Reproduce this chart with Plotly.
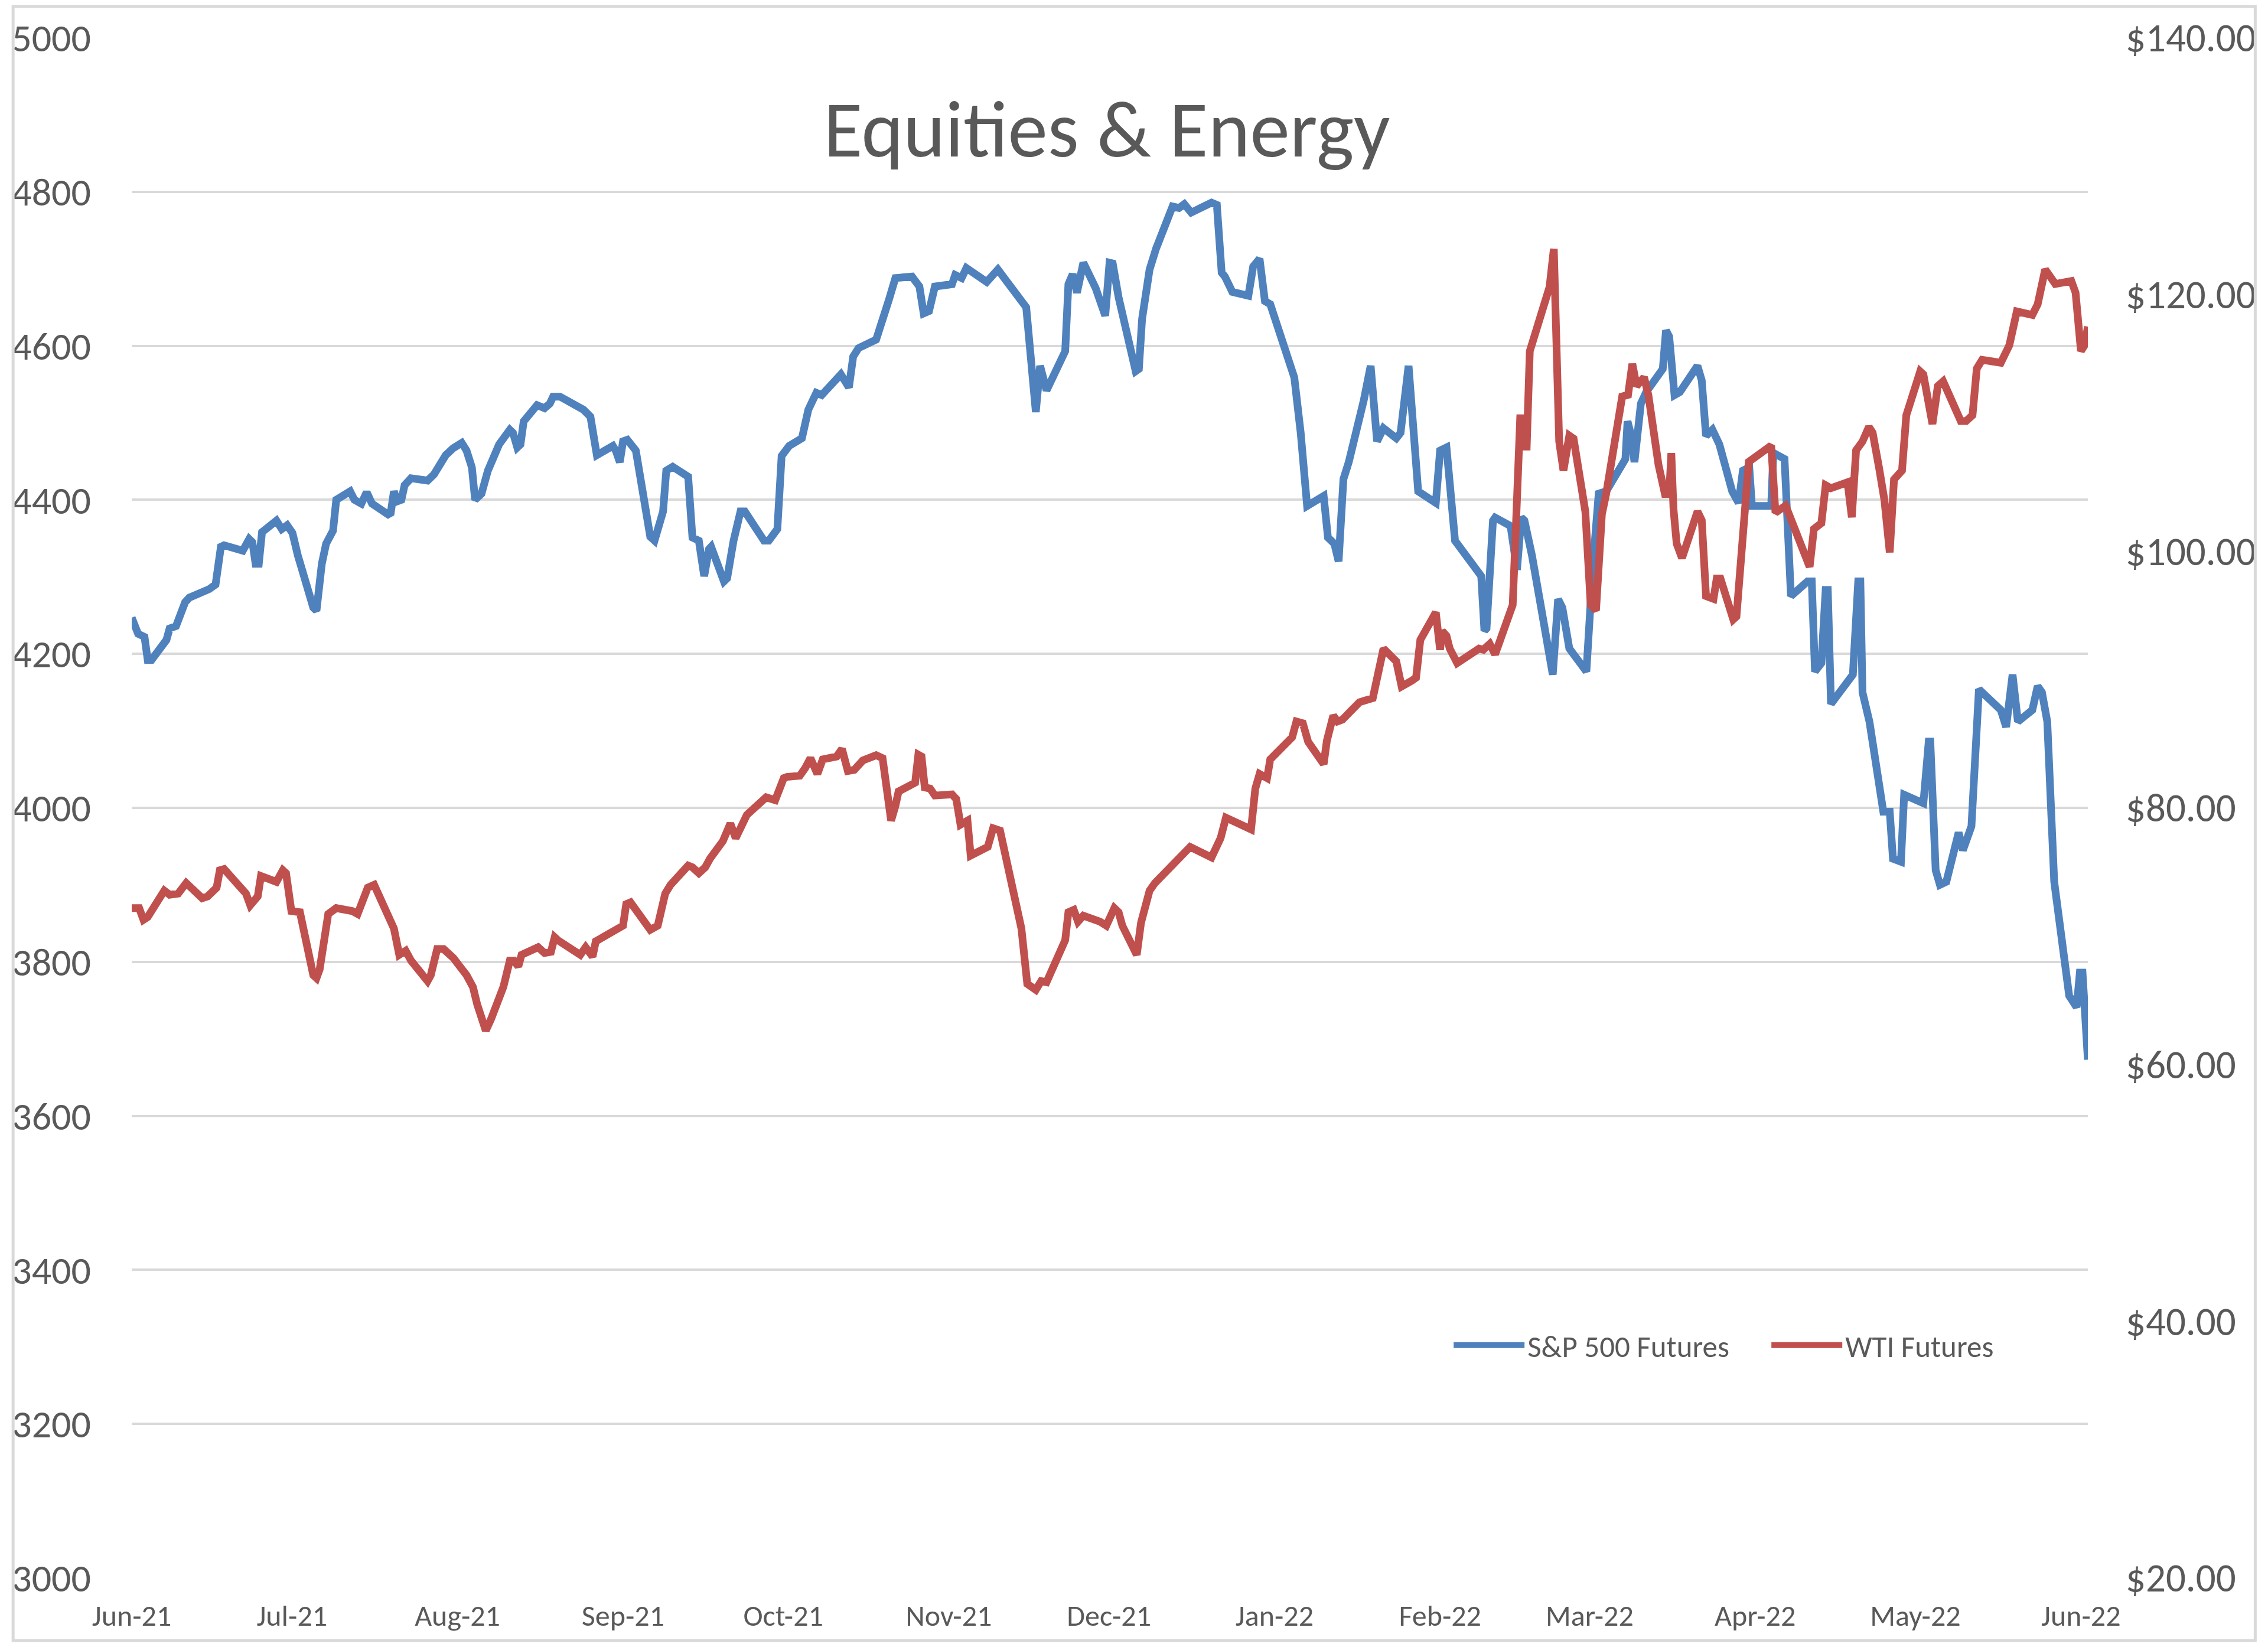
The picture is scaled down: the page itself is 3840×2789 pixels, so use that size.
import pandas as pd
import plotly.graph_objects as go

# days after 2021-06-16
start = pd.Timestamp("2021-06-16")

sp_days = [0, 1.2, 2.4, 3.0, 3.7, 5.3, 6.5, 7.1, 8.3, 10.0, 10.8, 14.5, 15.7, 16.7, 17.3,
           20.8, 22.0, 22.6, 23.2, 23.8, 24.4, 27.1, 28.1, 29.1, 30.1, 31.1, 34.0, 34.6,
           35.0, 35.6, 36.4, 37.7, 38.3, 40.9, 41.7, 43.0, 44.0, 45.0, 48.0, 48.5, 49.1,
           49.7, 50.5, 51.1, 52.3, 55.4, 56.6, 58.8, 60.2, 61.8, 62.7, 63.7, 64.3, 65.5,
           66.7, 68.8, 70.8, 71.4, 72.2, 72.8, 73.4, 75.9, 77.3, 78.3, 78.9, 80.2, 84.6,
           85.9, 87.1, 90.1, 90.7, 91.4, 92.0, 92.8, 94.4, 97.1, 97.9, 98.7, 99.5, 100.1,
           101.3, 104.2, 105.0, 106.2, 107.2, 108.1, 108.5, 110.9, 111.5, 112.7, 114.0,
           114.8, 118.4, 119.3, 120.9, 121.7, 123.1, 125.5, 126.7, 128.2, 129.2, 132.8,
           134.3, 135.1, 136.1, 139.4, 140.6, 141.8, 143.0, 146.1, 147.5, 148.3, 149.3,
           150.4, 153.6, 154.2, 155.4, 156.3, 160.1, 162.2, 167.5, 168.5, 169.3, 170.1,
           171.3, 174.8, 175.4, 176.2, 177.0, 178.2, 180.5, 182.3, 183.1, 183.7, 184.8,
           188.0, 188.6, 189.2, 190.6, 191.8, 194.9, 196.1, 197.1, 198.4, 202.2, 203.2,
           204.1, 204.7, 206.1, 209.1, 210.0, 211.2, 212.2, 213.2, 216.9, 217.7, 218.9,
           220.1, 223.2, 224.0, 225.2, 226.0, 226.9, 227.9, 230.7, 232.0, 233.2, 234.4,
           236.8, 237.6, 239.1, 240.1, 240.9, 244.2, 245.0, 246.2, 247.2, 247.8, 252.7,
           253.3, 253.7, 254.9, 255.3, 258.2, 259.4, 260.2, 260.8, 262.2, 264.3, 266.1,
           267.1, 267.9, 269.2, 272.4, 273.6, 274.7, 276.1, 279.7, 280.1, 280.8, 281.4,
           282.6, 283.6, 286.7, 287.3, 287.9, 288.9, 289.9, 293.2, 294.0, 294.8, 296.0,
           297.3, 299.7, 300.9, 301.7, 302.9, 303.4, 307.0, 307.4, 309.5, 310.7, 313.8,
           314.6, 315.2, 316.4, 317.2, 317.6, 318.2, 321.3, 322.3, 323.3, 323.7, 324.1,
           325.4, 328.0, 329.2, 329.8, 331.3, 331.9, 335.5, 336.5, 336.8, 337.8, 338.6,
           339.8, 342.1, 342.9, 344.5, 345.9, 350.0, 351.0, 352.2, 353.2, 355.9, 356.9,
           357.7, 358.7, 360.0, 362.8, 364.2, 364.8, 365.3, 366.3]
sp_vals = [4247, 4226, 4222, 4192, 4192, 4207, 4218, 4233, 4236, 4267, 4273, 4284, 4290, 4339,
           4341, 4334, 4349, 4345, 4317, 4317, 4358, 4373, 4362, 4367, 4357, 4328, 4260,
           4256, 4290, 4317, 4343, 4360, 4400, 4411, 4400, 4395, 4410, 4395, 4381, 4383,
           4411, 4398, 4400, 4419, 4428, 4425, 4433, 4458, 4467, 4474, 4464, 4442, 4400,
           4408, 4438, 4472, 4491, 4487, 4468, 4472, 4502, 4523, 4519, 4525, 4534, 4534,
           4517, 4508, 4458, 4470, 4463, 4449, 4476, 4478, 4464, 4352, 4347, 4366, 4385,
           4438, 4443, 4430, 4351, 4347, 4301, 4336, 4339, 4294, 4298, 4347, 4385, 4385,
           4347, 4347, 4362, 4457, 4470, 4480, 4517, 4539, 4536, 4563, 4546, 4586, 4597,
           4608, 4631, 4660, 4688, 4690, 4677, 4642, 4645, 4677, 4680, 4692, 4688, 4701,
           4683, 4699, 4650, 4567, 4514, 4574, 4542, 4593, 4680, 4693, 4669, 4708, 4675,
           4639, 4708, 4707, 4663, 4567, 4570, 4635, 4699, 4726, 4781, 4779, 4784, 4773,
           4786, 4783, 4695, 4690, 4670, 4665, 4703, 4713, 4658, 4654, 4574, 4559, 4487,
           4392, 4405, 4351, 4343, 4320, 4427, 4449, 4529, 4574, 4476, 4493, 4480, 4487,
           4574, 4487, 4411, 4396, 4464, 4468, 4373, 4347, 4301, 4230, 4233, 4373, 4377,
           4366, 4309, 4377, 4373, 4328, 4245, 4173, 4271, 4260, 4207, 4177, 4313, 4408,
           4411, 4453, 4502, 4483, 4449, 4525, 4540, 4570, 4620, 4612, 4536, 4540, 4574,
           4555, 4483, 4491, 4472, 4411, 4396, 4438, 4442, 4392, 4392, 4461, 4453, 4275,
           4294, 4294, 4177, 4188, 4283, 4283, 4135, 4161, 4173, 4294, 4294, 4150, 4112,
           3995, 3995, 3934, 3930, 4017, 4006, 4086, 4086, 3919, 3900, 3904, 3968, 3945,
           3976, 4154, 4127, 4105, 4173, 4112, 4127, 4158, 4150, 4112, 3904, 3756, 3741,
           3786, 3786, 3673]

wti_days = [0, 1.4, 2.2, 3.0, 6.1, 7.1, 8.7, 10.2, 13.2, 14.2, 15.9, 16.5, 17.3, 21.4, 22.2,
            23.6, 24.2, 27.1, 28.3, 28.9, 29.9, 31.5, 34.0, 34.6, 35.2, 36.8, 38.3, 41.3,
            42.3, 43.4, 44.2, 45.4, 49.1, 50.1, 51.3, 52.3, 55.4, 56.0, 57.2, 58.4, 60.2,
            62.7, 63.9, 64.7, 66.3, 67.3, 69.6, 70.8, 71.6, 72.4, 73.0, 76.1, 77.3, 78.5,
            79.2, 79.8, 81.0, 84.0, 85.0, 86.3, 86.9, 91.2, 92.0, 92.6, 93.4, 97.1, 98.5,
            99.9, 100.9, 104.2, 105.0, 106.2, 107.4, 108.3, 110.7, 112.1, 113.1, 115.2,
            118.0, 118.8, 120.5, 122.1, 122.7, 125.1, 126.1, 127.1, 128.4, 129.4, 132.0,
            133.0, 134.1, 135.3, 136.9, 139.4, 140.6, 141.4, 142.2, 143.0, 143.6, 146.7,
            147.3, 147.9, 148.5, 149.5, 150.4, 153.6, 154.4, 155.2, 156.5, 157.1, 160.3,
            161.3, 162.6, 166.6, 167.7, 169.3, 170.3, 171.3, 174.8, 175.4, 176.4, 177.2,
            178.2, 181.3, 182.5, 184.0, 184.8, 185.5, 188.2, 189.0, 190.6, 191.6, 195.3,
            196.5, 198.2, 202.2, 203.9, 204.9, 206.3, 209.6, 210.4, 211.2, 212.6, 213.2,
            217.3, 218.1, 219.3, 220.3, 223.2, 223.8, 225.0, 225.8, 226.7, 229.9, 232.4,
            234.0, 234.4, 236.8, 237.8, 239.7, 240.5, 241.3, 244.2, 245.0, 245.4, 246.2,
            246.8, 248.2, 252.3, 253.1, 254.3, 255.3, 258.6, 259.2, 260.0, 261.0, 261.2,
            261.8, 264.3, 265.5, 266.3, 266.7, 267.3, 268.1, 269.2, 270.0, 272.2, 273.2,
            274.2, 275.3, 276.1, 279.1, 280.2, 281.0, 281.8, 283.2, 284.0, 285.9, 287.1,
            287.9, 288.3, 288.7, 289.3, 290.3, 293.2, 294.0, 294.8, 296.2, 296.8, 297.5,
            299.9, 300.5, 302.1, 302.8, 307.0, 307.8, 309.7, 311.1, 314.2, 315.0, 316.4,
            317.2, 318.2, 321.3, 322.1, 322.9, 324.1, 325.3, 326.0, 327.2, 328.2, 329.2,
            330.0, 331.5, 332.3, 334.9, 335.5, 337.2, 338.2, 339.2, 342.5, 343.5, 344.7,
            345.5, 346.5, 350.0, 351.6, 353.0, 355.9, 356.9, 358.3, 360.2, 363.2, 364.0,
            365.0, 365.7, 366.3]
wti_vals = [72.19, 72.19, 71.28, 71.50, 73.55, 73.23, 73.32, 74.14, 72.96, 73.10, 73.78, 75.14,
            75.23, 73.32, 72.41, 73.10, 74.69, 74.23, 75.14, 74.91, 71.96, 71.87, 66.96,
            66.73, 67.42, 71.73, 72.19, 71.96, 71.73, 72.87, 73.78, 74.00, 70.60, 68.55,
            68.87, 68.10, 66.50, 66.96, 69.00, 69.00, 68.32, 66.96, 66.04, 64.68, 62.64,
            63.55, 66.05, 68.10, 68.10, 67.64, 68.55, 69.14, 68.69, 68.78, 69.92, 69.69,
            69.32, 68.55, 69.14, 68.41, 69.60, 70.50, 70.82, 72.50, 72.64, 70.50, 70.82,
            73.32, 74.00, 75.50, 75.37, 74.91, 75.37, 76.05, 77.41, 78.78, 77.64, 79.46,
            80.68, 80.82, 80.60, 82.32, 82.41, 82.50, 83.09, 83.87, 82.64, 83.78, 84.00,
            84.59, 82.87, 82.96, 83.69, 84.10, 83.87, 81.05, 79.00, 80.14, 81.28, 81.96,
            84.14, 84.00, 81.59, 81.50, 80.96, 81.05, 80.69, 78.69, 79.00, 76.28, 76.96,
            78.41, 78.23, 70.60, 66.28, 65.82, 66.50, 66.41, 69.69, 71.87, 72.05, 71.14,
            71.60, 71.14, 70.82, 72.19, 71.87, 70.82, 68.55, 71.05, 73.55, 74.14, 75.82,
            76.28, 76.96, 76.14, 77.64, 79.23, 79.00, 78.32, 81.50, 82.64, 82.32, 83.78,
            85.50, 86.73, 86.59, 85.14, 83.41, 85.23, 87.19, 86.73, 86.87, 88.23, 88.55,
            91.50, 92.41, 91.41, 89.46, 89.91, 90.14, 93.09, 95.23, 92.32, 93.78, 93.41,
            92.41, 91.28, 92.41, 92.32, 92.78, 91.96, 95.82, 101.96, 110.36, 110.36, 107.86,
            115.59, 119.00, 120.59, 123.55, 116.96, 108.55, 106.28, 109.00, 108.77, 103.09,
            95.82, 95.37, 102.87, 104.46, 112.05, 112.18, 114.59, 112.86, 113.55, 112.18,
            106.73, 104.46, 104.46, 107.64, 103.32, 100.59, 99.46, 103.09, 102.41, 96.50,
            96.28, 97.87, 97.87, 94.68, 94.91, 102.41, 106.96, 108.23, 103.00, 103.55,
            101.96, 98.78, 101.73, 102.18, 105.14, 104.91, 105.37, 102.64, 107.86, 108.55,
            109.68, 109.23, 106.50, 104.00, 99.91, 105.59, 106.28, 110.59, 114.00, 113.77,
            109.91, 112.86, 113.23, 110.14, 110.14, 110.59, 114.23, 114.91, 114.68, 116.05,
            118.68, 118.41, 119.23, 121.95, 120.82, 121.05, 120.14, 115.59, 116.05, 117.50]

sp_x = start + pd.to_timedelta(sp_days, unit="D")
wti_x = start + pd.to_timedelta(wti_days, unit="D")

# page body adds an 8px margin, so the figure is a bit smaller than the window
W, H = 3840 - 16, 2789 - 16
L, T = 205, 56
PW, PH = 3331, 2608
R, B = W - L - PW, H - T - PH
font = "Carlito, Calibri, Lato, sans-serif"
grey = "#595959"

fig = go.Figure()
fig.add_trace(go.Scatter(x=sp_x, y=sp_vals, name="S&P 500 Futures", mode="lines",
                         line=dict(color="#4F81BD", width=13)))
fig.add_trace(go.Scatter(x=wti_x, y=wti_vals, name="WTI Futures", mode="lines",
                         line=dict(color="#C0504D", width=13), yaxis="y2"))

fig.add_shape(type="rect", xref="paper", yref="paper",
              x0=-(L - 3) / PW, x1=1 + (R - 3) / PW,
              y0=-(B - 3) / PH, y1=1 + (T - 3) / PH,
              line=dict(color="#D9D9D9", width=5))

fig.update_layout(
    width=W, height=H,
    margin=dict(l=L, r=R, t=T, b=B),
    paper_bgcolor="white", plot_bgcolor="white",
    font=dict(family=font, color=grey),
    title=dict(text="Equities & Energy", font=dict(size=135, color=grey),
               x=(1874 - 8) / W, xanchor="center", y=1 - (218 - 8) / H, yanchor="middle",
               xref="container", yref="container"),
    xaxis=dict(range=[start, start + pd.Timedelta(days=366.3)],
               tick0="2021-06-16", dtick="M1", tickformat="%b-%y",
               tickfont=dict(size=50, color=grey), ticklabelstandoff=30,
               showgrid=False, zeroline=False, showline=False, ticks=""),
    yaxis=dict(range=[3000, 5000], dtick=200, tickfont=dict(size=66, color=grey),
               showgrid=True, gridcolor="#D9D9D9", gridwidth=4, zeroline=False,
               showline=False, ticklabelstandoff=68),
    yaxis2=dict(range=[20, 140], dtick=20, overlaying="y", side="right",
                tickprefix="$", tickformat=",.2f", tickfont=dict(size=67, color=grey),
                showgrid=False, zeroline=False, showline=False, ticklabelstandoff=63),
    legend=dict(orientation="h", x=(2459 - 8 - L) / PW, xanchor="left",
                y=(2672 - 2278) / PH, yanchor="middle",
                font=dict(size=51, color=grey), itemwidth=120, entrywidth=403,
                bgcolor="rgba(0,0,0,0)"),
    showlegend=True,
)

fig.write_html("out.html")
